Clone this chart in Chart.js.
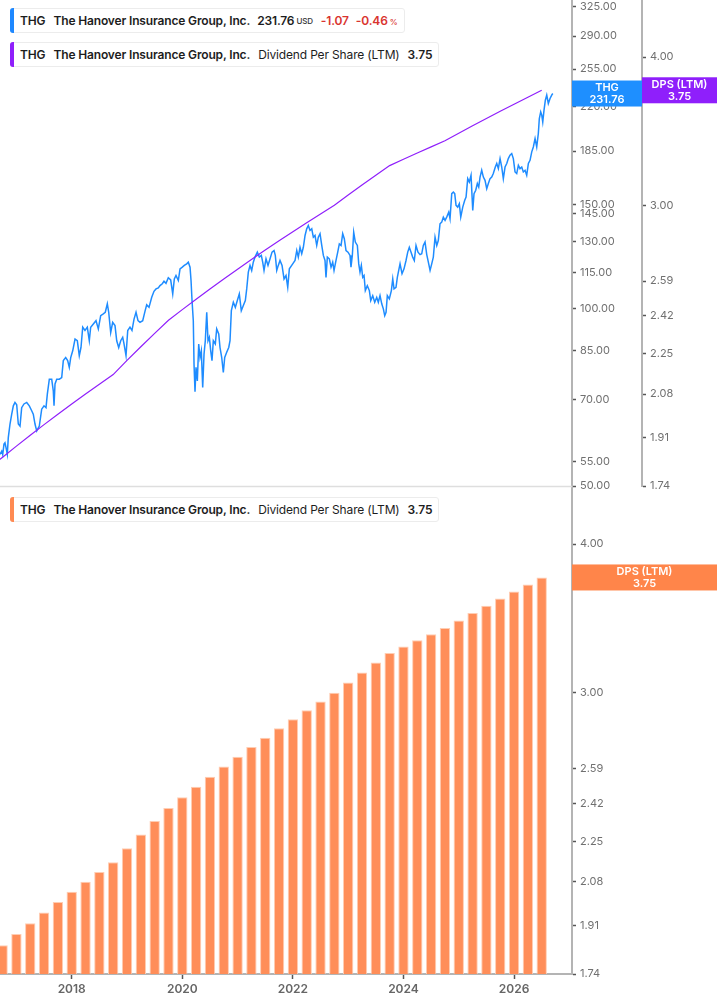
<!DOCTYPE html>
<html>
<head>
<meta charset="utf-8">
<title>THG price and dividend per share</title>
<script src="https://cdn.jsdelivr.net/npm/chart.js@4.4.1/dist/chart.umd.min.js"></script>
<style>
  body { margin: 0; background: #fff; font-family: Inter, 'Noto Sans', sans-serif; }
  #wrap { position: relative; width: 717px; height: 1005px; overflow: hidden; }
  #top { position: absolute; left: 0; top: 0; z-index: 2; }
  #bottom { position: absolute; left: 0; top: 487px; z-index: 1; }
  .lg {
    position: absolute; left: 10px; z-index: 3; height: 25px; box-sizing: border-box;
    display: flex; align-items: center; padding: 0 6px 0 9px;
    background: #fff; border: 1px solid #ececec; border-radius: 3px;
    font-size: 12px; color: #1d1d1d; white-space: nowrap; letter-spacing: -0.15px;
  }
  .lg::before {
    content: ''; position: absolute; left: -1px; top: -1px; bottom: -1px; width: 4px;
    border-radius: 3px 0 0 3px; background: var(--c);
  }
  .lg b { font-weight: 600; }
  .lg .gap { margin-left: 8px; }
  .lg .gap2 { margin-left: 7px; }
  .lg small { font-size: 8px; font-weight: 500; margin-left: 2px; }
  .neg { color: #d9342f; font-weight: 600; }
</style>
</head>
<body>
<div id="wrap">
  <canvas id="top" width="717" height="500"></canvas>
  <canvas id="bottom" width="717" height="518"></canvas>

  <div class="lg" style="top:8px; --c:#1e88ff">
    <b>THG</b><b class="gap">The Hanover Insurance Group, Inc.</b>
    <b class="gap2">231.76</b><small style="color:#333">USD</small>
    <span class="neg gap">-1.07</span><span class="neg gap2">-0.46<small>%</small></span>
  </div>
  <div class="lg" style="top:42px; --c:#8f1ffb">
    <b>THG</b><b class="gap">The Hanover Insurance Group, Inc.</b>
    <span class="gap">Dividend Per Share (LTM)</span><b class="gap">3.75</b>
  </div>
  <div class="lg" style="top:497px; --c:#ff8a52">
    <b>THG</b><b class="gap">The Hanover Insurance Group, Inc.</b>
    <span class="gap">Dividend Per Share (LTM)</span><b class="gap">3.75</b>
  </div>
</div>

<script>
// visible date range (decimal years)
const xMin = 2016.703;
const xMax = 2027.048;
const yearTicks = [2018, 2020, 2022, 2024, 2026];

// axis ticks
const priceTicks = [325, 290, 255, 220, 185, 150, 145, 130, 115, 100, 85, 70, 55, 50];
const dpsTicks = [4.00, 3.00, 2.59, 2.42, 2.25, 2.08, 1.91, 1.74];

// dividend per share, trailing twelve months, quarterly
const dpsDates = [
  2016.5, 2016.75, 2017.0, 2017.25, 2017.5, 2017.75, 2018.0, 2018.25, 2018.5, 2018.75,
  2019.0, 2019.25, 2019.5, 2019.75, 2020.0, 2020.25, 2020.5, 2020.75, 2021.0, 2021.25,
  2021.5, 2021.75, 2022.0, 2022.25, 2022.5, 2022.75, 2023.0, 2023.25, 2023.5, 2023.75,
  2024.0, 2024.25, 2024.5, 2024.75, 2025.0, 2025.25, 2025.5, 2025.75, 2026.0, 2026.25,
  2026.5
];
const dpsValues = [
  1.80, 1.84, 1.88, 1.92, 1.96, 2.00, 2.04, 2.08, 2.12, 2.16,
  2.22, 2.28, 2.34, 2.40, 2.45, 2.50, 2.55, 2.60, 2.65, 2.70,
  2.75, 2.80, 2.85, 2.90, 2.95, 3.00, 3.06, 3.12, 3.18, 3.24,
  3.28, 3.32, 3.36, 3.40, 3.45, 3.50, 3.55, 3.60, 3.65, 3.70,
  3.75
];

// share price (USD)
const priceDates = [
  2016.703, 2016.734, 2016.752, 2016.775, 2016.793, 2016.812, 2016.835, 2016.853, 2016.884, 2016.915,
  2016.944, 2016.974, 2017.005, 2017.034, 2017.065, 2017.095, 2017.137, 2017.186, 2017.233, 2017.276,
  2017.305, 2017.336, 2017.367, 2017.414, 2017.457, 2017.499, 2017.535, 2017.559, 2017.595, 2017.638,
  2017.667, 2017.680, 2017.698, 2017.729, 2017.776, 2017.819, 2017.848, 2017.891, 2017.927, 2017.956,
  2017.982, 2018.018, 2018.060, 2018.101, 2018.137, 2018.168, 2018.199, 2018.240, 2018.282, 2018.318,
  2018.343, 2018.391, 2018.439, 2018.481, 2018.524, 2018.571, 2018.607, 2018.644, 2018.669, 2018.705,
  2018.741, 2018.783, 2018.814, 2018.850, 2018.886, 2018.922, 2018.946, 2018.982, 2019.013, 2019.054,
  2019.090, 2019.127, 2019.163, 2019.199, 2019.235, 2019.284, 2019.326, 2019.356, 2019.398, 2019.447,
  2019.488, 2019.525, 2019.566, 2019.597, 2019.638, 2019.669, 2019.705, 2019.747, 2019.790, 2019.827,
  2019.856, 2019.886, 2019.928, 2019.959, 2020.000, 2020.036, 2020.080, 2020.109, 2020.140, 2020.158,
  2020.176, 2020.199, 2020.212, 2020.230, 2020.248, 2020.272, 2020.297, 2020.320, 2020.344, 2020.369,
  2020.393, 2020.416, 2020.442, 2020.465, 2020.489, 2020.514, 2020.537, 2020.561, 2020.597, 2020.622,
  2020.659, 2020.682, 2020.713, 2020.742, 2020.767, 2020.803, 2020.840, 2020.863, 2020.887, 2020.923,
  2020.959, 2020.995, 2021.031, 2021.067, 2021.104, 2021.140, 2021.165, 2021.194, 2021.225, 2021.255,
  2021.284, 2021.315, 2021.357, 2021.393, 2021.429, 2021.454, 2021.478, 2021.514, 2021.550, 2021.587,
  2021.623, 2021.659, 2021.682, 2021.708, 2021.736, 2021.767, 2021.804, 2021.840, 2021.876, 2021.907,
  2021.936, 2021.997, 2022.039, 2022.070, 2022.098, 2022.129, 2022.160, 2022.189, 2022.220, 2022.250,
  2022.279, 2022.310, 2022.341, 2022.370, 2022.400, 2022.431, 2022.460, 2022.491, 2022.522, 2022.551,
  2022.581, 2022.599, 2022.623, 2022.659, 2022.690, 2022.720, 2022.744, 2022.780, 2022.811, 2022.840,
  2022.871, 2022.901, 2022.930, 2022.961, 2022.997, 2023.033, 2023.051, 2023.075, 2023.100, 2023.129,
  2023.166, 2023.191, 2023.214, 2023.238, 2023.263, 2023.287, 2023.310, 2023.346, 2023.383, 2023.408,
  2023.444, 2023.480, 2023.516, 2023.545, 2023.576, 2023.607, 2023.636, 2023.661, 2023.685, 2023.708,
  2023.744, 2023.781, 2023.806, 2023.829, 2023.865, 2023.889, 2023.914, 2023.938, 2023.974, 2024.010,
  2024.046, 2024.077, 2024.106, 2024.137, 2024.167, 2024.196, 2024.227, 2024.263, 2024.300, 2024.330,
  2024.359, 2024.390, 2024.421, 2024.450, 2024.481, 2024.511, 2024.540, 2024.571, 2024.602, 2024.630,
  2024.661, 2024.692, 2024.721, 2024.752, 2024.782, 2024.819, 2024.842, 2024.873, 2024.902, 2024.927,
  2024.951, 2024.981, 2025.010, 2025.036, 2025.072, 2025.108, 2025.132, 2025.162, 2025.191, 2025.222,
  2025.253, 2025.276, 2025.307, 2025.336, 2025.361, 2025.385, 2025.415, 2025.445, 2025.475, 2025.506,
  2025.535, 2025.566, 2025.596, 2025.625, 2025.661, 2025.687, 2025.716, 2025.747, 2025.777, 2025.806,
  2025.837, 2025.868, 2025.896, 2025.927, 2025.958, 2025.987, 2026.018, 2026.048, 2026.078, 2026.108,
  2026.139, 2026.168, 2026.199, 2026.229, 2026.259, 2026.289, 2026.320, 2026.349, 2026.380, 2026.410,
  2026.439, 2026.457, 2026.482, 2026.501, 2026.519, 2026.542, 2026.566, 2026.591, 2026.620, 2026.651,
  2026.681, 2026.700
];
const priceValues = [
  56.6, 57.3, 56.5, 58.9, 59.2, 58.1, 56.6, 60.4, 63.7, 66.2,
  68.4, 69.3, 68.7, 63.7, 63.2, 67.9, 68.9, 69.3, 68.4, 67.1,
  66.2, 63.7, 62.0, 63.2, 67.5, 68.4, 67.9, 71.6, 75.9, 75.9,
  72.5, 68.4, 74.5, 75.9, 75.9, 76.4, 81.6, 82.6, 81.6, 79.5,
  82.6, 84.8, 88.8, 88.2, 83.2, 85.9, 93.0, 91.8, 93.0, 88.2,
  93.0, 94.2, 95.4, 92.4, 97.3, 98.0, 98.6, 101.9, 98.6, 91.1,
  94.8, 93.6, 88.2, 85.9, 88.2, 89.4, 87.1, 83.2, 91.8, 93.0,
  91.8, 96.0, 98.6, 95.4, 94.8, 95.4, 99.0, 101.5, 100.5, 104.5,
  107.0, 108.0, 108.4, 109.4, 110.2, 111.3, 110.4, 112.8, 111.9, 105.9,
  112.3, 113.8, 111.6, 116.8, 117.6, 118.4, 119.1, 119.9, 117.6, 111.6,
  103.2, 95.4, 80.5, 72.3, 79.5, 75.4, 87.1, 82.6, 84.8, 73.5,
  83.7, 88.2, 98.6, 88.2, 89.4, 84.8, 81.6, 88.2, 87.1, 92.4,
  90.6, 85.9, 82.6, 77.9, 82.6, 84.3, 85.9, 88.2, 99.2, 102.5,
  100.5, 103.2, 105.9, 99.2, 101.2, 103.2, 108.0, 115.3, 118.4, 116.1,
  119.9, 122.3, 124.7, 122.3, 123.1, 119.9, 116.1, 121.5, 118.4, 121.5,
  124.7, 125.5, 123.1, 116.1, 118.4, 120.7, 118.4, 112.3, 113.8, 108.7,
  116.8, 119.1, 120.7, 125.5, 122.3, 127.1, 123.9, 127.1, 133.1, 136.6,
  138.4, 135.7, 136.6, 132.2, 133.1, 128.0, 132.2, 134.0, 128.0, 123.1,
  120.7, 113.0, 122.3, 121.5, 117.6, 119.9, 116.1, 120.7, 124.7, 128.8,
  128.0, 134.0, 131.4, 125.5, 124.7, 123.1, 117.6, 123.1, 134.8, 129.7,
  128.0, 119.1, 115.3, 118.4, 113.0, 113.8, 107.3, 109.4, 107.3, 103.2,
  105.2, 102.5, 104.5, 102.5, 105.2, 101.9, 99.9, 97.3, 98.6, 105.2,
  103.9, 107.3, 112.3, 108.0, 108.7, 113.0, 116.1, 119.1, 114.6, 116.8,
  120.7, 124.7, 127.1, 124.7, 122.3, 120.7, 128.0, 124.7, 123.5, 123.9,
  128.0, 129.7, 123.5, 119.9, 116.1, 119.1, 122.3, 132.2, 128.0, 130.5,
  139.3, 140.2, 143.0, 141.2, 143.0, 145.8, 142.1, 156.7, 157.7, 156.7,
  149.7, 148.7, 150.7, 143.0, 148.7, 152.7, 154.6, 166.2, 164.0, 168.4,
  146.8, 156.7, 158.8, 163.0, 160.8, 167.2, 171.7, 167.2, 165.1, 159.8,
  163.0, 166.2, 167.2, 169.5, 173.9, 176.3, 172.8, 179.7, 173.9, 166.2,
  173.9, 176.3, 179.7, 182.1, 183.3, 179.7, 170.6, 169.5, 175.1, 172.8,
  173.9, 170.6, 171.7, 168.4, 176.3, 178.5, 184.5, 188.1, 194.3, 188.1,
  198.2, 210.2, 215.7, 213.0, 207.4, 217.2, 225.8, 230.3, 222.9, 227.3,
  230.3, 231.76
];

const BLUE = '#1e8cff';
const PURPLE = '#8f1ffb';
const ORANGE = '#ff8e59';
const AXIS = '#b4b4b4';
const TICK_TEXT = '#707070';

const pricePoints = priceDates.map((d, i) => ({ x: d, y: priceValues[i] }));
const dpsPoints = dpsDates.map((d, i) => ({ x: d, y: dpsValues[i] }));
const lastPrice = priceValues[priceValues.length - 1];
const lastDps = dpsValues[dpsValues.length - 1];

// shared look of the right-hand value axes
function valueAxis(ticks, width, weight, opts) {
  return Object.assign({
    type: 'logarithmic',
    position: 'right',
    bounds: 'data',
    weight: weight,
    afterBuildTicks: s => { s.ticks = ticks.map(v => ({ value: v })); },
    afterFit: s => { s.width = width; s.paddingTop = 0; s.paddingBottom = 0; },
    border: { color: AXIS, width: 2 },
    grid: { drawOnChartArea: false, drawTicks: true, tickLength: 4, tickColor: '#555', tickWidth: 1.5 },
    ticks: {
      autoSkip: false, padding: 4, color: TICK_TEXT,
      font: { family: 'Inter', size: 11 },
      callback: v => Number(v).toFixed(2)
    }
  }, opts);
}

// coloured value tags on the axes
const valueTags = {
  id: 'valueTags',
  afterDraw(chart, args, opts) {
    const ctx = chart.ctx;
    opts.tags.forEach(t => {
      const s = chart.scales[t.axis];
      const y = s.getPixelForValue(t.value);
      ctx.save();
      ctx.fillStyle = t.color;
      ctx.fillRect(s.left, y - 13, s.right - s.left, 26);
      ctx.fillStyle = '#fff';
      ctx.font = '600 11px Inter';
      ctx.textAlign = 'center';
      ctx.textBaseline = 'middle';
      const cx = (s.left + s.right) / 2;
      ctx.fillText(t.lines[0], cx, y - 5.5);
      ctx.fillText(t.lines[1], cx, y + 6);
      ctx.restore();
    });
  }
};

// thin line under the upper panel
const panelEdge = {
  id: 'panelEdge',
  afterDraw(chart) {
    const a = chart.chartArea, ctx = chart.ctx;
    ctx.save();
    ctx.strokeStyle = '#dedede';
    ctx.lineWidth = 1.5;
    ctx.beginPath();
    ctx.moveTo(a.left, a.bottom + 0.5);
    ctx.lineTo(a.right, a.bottom + 0.5);
    ctx.stroke();
    ctx.restore();
  }
};

new Chart(document.getElementById('top'), {
  type: 'line',
  data: {
    datasets: [
      { label: 'DPS (LTM)', data: dpsPoints, yAxisID: 'dps', borderColor: PURPLE, borderWidth: 1.2,
        pointRadius: 0, tension: 0, clip: 0, order: 0 },
      { label: 'THG', data: pricePoints, yAxisID: 'price', borderColor: BLUE, borderWidth: 1.5,
        pointRadius: 0, tension: 0, clip: 0, order: 1 }
    ]
  },
  options: {
    responsive: false,
    animation: false,
    events: [],
    layout: { padding: { top: 0, left: 0, right: 0, bottom: 14 } },
    plugins: {
      legend: { display: false },
      tooltip: { enabled: false },
      valueTags: { tags: [
        { axis: 'price', value: lastPrice, color: '#1e8fff', lines: ['THG', lastPrice.toFixed(2)] },
        { axis: 'dps', value: lastDps, color: PURPLE, lines: ['DPS (LTM)', lastDps.toFixed(2)] }
      ] }
    },
    scales: {
      x: { type: 'linear', bounds: 'data', min: xMin, max: xMax, display: false },
      price: valueAxis(priceTicks, 70, 0, { min: 50, max: 334 }),
      dps: valueAxis(dpsTicks, 75, 1, { min: 1.74, max: 4.468 })
    }
  },
  plugins: [valueTags, panelEdge]
});

new Chart(document.getElementById('bottom'), {
  type: 'bar',
  data: {
    datasets: [
      { label: 'DPS (LTM)', data: dpsPoints, yAxisID: 'dps', backgroundColor: ORANGE,
        borderColor: '#ffcdb3', borderWidth: { top: 1, left: 1, right: 1, bottom: 0 },
        borderSkipped: 'bottom', categoryPercentage: 1, barPercentage: 0.75, clip: 0 }
    ]
  },
  options: {
    responsive: false,
    animation: false,
    events: [],
    layout: { padding: 0 },
    plugins: {
      legend: { display: false },
      tooltip: { enabled: false },
      valueTags: { tags: [
        { axis: 'dps', value: lastDps, color: '#ff854a', lines: ['DPS (LTM)', lastDps.toFixed(2)] }
      ] }
    },
    scales: {
      x: {
        type: 'linear', bounds: 'data', min: xMin, max: xMax, offset: false,
        afterBuildTicks: s => { s.ticks = yearTicks.map(v => ({ value: v })); },
        afterFit: s => { s.height = 31; s.paddingLeft = 0; s.paddingRight = 0; },
        border: { color: AXIS, width: 2 },
        grid: { offset: false, drawOnChartArea: false, drawTicks: true, tickLength: 5, tickColor: '#555', tickWidth: 1.5 },
        ticks: {
          autoSkip: false, maxRotation: 0, padding: 3, color: '#666',
          font: { family: 'Inter', size: 12, weight: '600' },
          callback: v => String(v)
        }
      },
      dps: valueAxis(dpsTicks, 145, 0, { min: 1.74, max: 4.468 })
    }
  },
  plugins: [valueTags]
});
</script>
</body>
</html>
